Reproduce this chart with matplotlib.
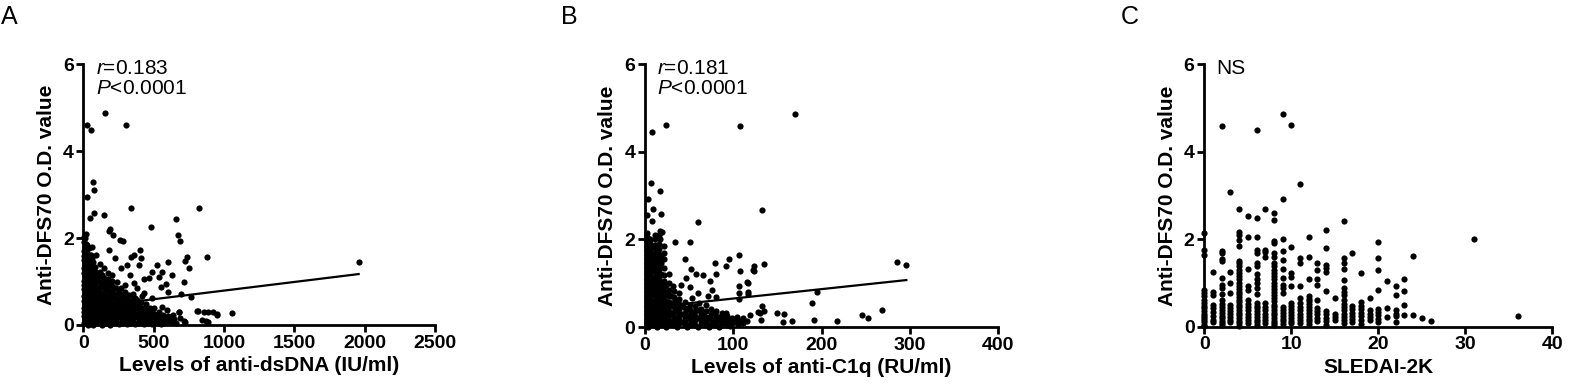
import numpy as np
import matplotlib
matplotlib.use("Agg")
import matplotlib.pyplot as plt

plt.rcParams['font.family'] = ['Liberation Sans', 'DejaVu Sans']
plt.rcParams['mathtext.fontset'] = 'custom'
plt.rcParams['mathtext.rm'] = 'Liberation Sans'
plt.rcParams['mathtext.it'] = 'Liberation Sans:italic'

# ---- panel A: anti-dsDNA (IU/ml) vs anti-DFS70 O.D. ----
pts_a = [
    # outliers
    (28, 4.6), (57, 4.48), (152, 4.87), (301, 4.6), (69, 3.29), (76, 3.1), (28, 2.94),
    (337, 2.7), (820, 2.7), (76, 2.57), (147, 2.54), (45, 2.45), (661, 2.43), (483, 2.25),
    (188, 2.2), (1957, 1.44), (20, 2.1), (14, 2.0),
    (185, 2.15), (213, 2.07), (260, 1.95), (284, 1.93), (670, 2.07), (687, 1.92),
    (403, 1.72), (360, 1.61), (337, 1.57), (408, 1.53), (396, 1.38), (739, 1.57),
    (877, 1.56), (720, 1.46), (604, 1.44), (526, 1.39), (751, 1.30), (562, 1.23),
    (491, 1.23), (538, 1.11), (633, 1.15), (467, 1.09), (432, 1.06), (586, 0.94),
    (550, 0.88), (715, 0.98), (604, 0.77), (767, 0.65), (696, 0.71), (180, 1.72),
    (227, 1.53), (267, 1.30), (310, 1.38), (333, 1.15), (357, 0.96), (381, 0.84),
    (428, 0.73), (487, 0.61), (558, 0.42), (594, 0.34), (677, 0.31), (617, 0.19),
    (688, 0.15), (723, 0.08), (806, 0.32), (854, 0.29), (889, 0.31), (948, 0.23),
    (1054, 0.27), (841, 0.12), (889, 0.08), (713, 0.1), (680, 0.31), (815, 0.33),
    (953, 0.25), (920, 0.3), (870, 0.1),
    # dense core
    (8, .04), (9, .12), (7, .2), (8, .3), (6, .38), (9, .47), (8, .55), (7, .66), (9, .74),
    (8, .83), (6, .92), (8, 1.02), (9, 1.1), (7, 1.2), (8, 1.31), (9, 1.4), (7, 1.5),
    (8, 1.58), (6, 1.7), (9, 1.8), (8, 1.9), (7, 2.02),
    (24, .08), (25, .17), (23, .26), (24, .35), (26, .44), (22, .52), (25, .62), (24, .71),
    (23, .8), (25, .9), (24, .98), (26, 1.08), (23, 1.17), (24, 1.26), (25, 1.36),
    (22, 1.46), (24, 1.55), (26, 1.64), (24, 1.75), (23, 1.85),
    (42, .03), (41, .14), (43, .23), (42, .32), (40, .42), (43, .5), (42, .6), (41, .7),
    (44, .78), (42, .88), (41, .96), (43, 1.06), (42, 1.16), (40, 1.25), (43, 1.34),
    (42, 1.44), (41, 1.52), (44, 1.62), (42, 1.78),
    (60, .06), (61, .16), (59, .27), (60, .36), (62, .46), (58, .57), (61, .65), (60, .75),
    (59, .86), (61, .95), (60, 1.04), (62, 1.14), (59, 1.24), (60, 1.33), (61, 1.42),
    (60, 1.55), (63, 1.8),
    (85, .05), (86, .15), (84, .24), (85, .34), (87, .44), (83, .53), (86, .63), (85, .73),
    (84, .82), (86, .93), (85, 1.02), (87, 1.12), (84, 1.22), (85, 1.34), (88, 1.6),
    (115, .08), (114, .18), (116, .28), (115, .38), (113, .48), (116, .58), (115, .68),
    (114, .78), (117, .88), (115, .98), (114, 1.1), (116, 1.22), (118, 1.4),
    (145, .04), (146, .13), (144, .23), (145, .33), (147, .43), (143, .53), (146, .63),
    (145, .73), (144, .85), (146, .96), (145, 1.08), (147, 1.3),
    (175, .07), (174, .17), (176, .27), (175, .37), (173, .47), (176, .57), (175, .67),
    (174, .8), (177, .92), (175, 1.05), (176, 1.2),
    (205, .05), (206, .15), (204, .25), (205, .35), (207, .45), (203, .55), (206, .65),
    (205, .78), (204, .9), (206, 1.02), (205, 1.16),
    (235, .09), (234, .19), (236, .29), (235, .39), (233, .49), (236, .6), (235, .72),
    (234, .86), (237, 1.0),
    (265, .05), (266, .15), (264, .25), (265, .35), (267, .46), (263, .57), (266, .7),
    (265, .85),
    (295, .08), (294, .18), (296, .28), (295, .38), (293, .5), (296, .62), (295, .76),
    (294, .92),
    (325, .04), (326, .14), (324, .24), (325, .34), (327, .45), (323, .56), (326, .68),
    (355, .07), (354, .17), (356, .27), (355, .37), (353, .48), (356, .6), (355, .72),
    (385, .05), (386, .15), (384, .25), (385, .36), (387, .47), (383, .58),
    (415, .08), (414, .18), (416, .28), (415, .4), (413, .52), (416, .66),
    (445, .04), (446, .14), (444, .25), (445, .36), (447, .48),
    (475, .07), (474, .17), (476, .28), (475, .4),
    (505, .05), (506, .15), (504, .26), (505, .38),
    (535, .08), (534, .18), (536, .3),
    (565, .05), (566, .14), (564, .24),
    (600, .1), (602, .2), (640, .06), (641, .14), (639, .24), (660, .05),
    # staggered core
    (16, .08), (16, .25), (16, .42), (16, .6), (16, .78), (16, .96), (16, 1.14), (16, 1.32),
    (16, 1.5), (16, 1.68), (16, 1.86),
    (33, .0), (33, .18), (33, .36), (33, .54), (33, .72), (33, .9), (33, 1.08), (33, 1.26),
    (33, 1.44), (33, 1.62), (33, 1.8),
    (51, .1), (51, .28), (51, .46), (51, .64), (51, .82), (51, 1.0), (51, 1.18), (51, 1.36),
    (51, 1.6),
    (72, .0), (72, .2), (72, .38), (72, .56), (72, .74), (72, .92), (72, 1.1), (72, 1.28),
    (72, 1.45),
    (100, .12), (100, .3), (100, .48), (100, .66), (100, .84), (100, 1.02), (100, 1.2),
    (130, .0), (130, .18), (130, .36), (130, .54), (130, .72), (130, .9), (130, 1.15),
    (160, .1), (160, .28), (160, .46), (160, .64), (160, .82), (160, 1.0),
    (190, .0), (190, .2), (190, .38), (190, .56), (190, .74), (190, .95),
    (220, .1), (220, .3), (220, .48), (220, .66), (220, .85),
    (250, .02), (250, .2), (250, .4), (250, .6), (250, .78),
    (280, .12), (280, .32), (280, .5), (280, .68),
    (310, .02), (310, .2), (310, .4), (310, .6),
    (340, .1), (340, .3), (340, .5),
    (370, .02), (370, .2), (370, .4), (370, .62),
    (400, .12), (400, .32), (400, .5),
    (430, .02), (430, .2), (430, .4),
    (460, .1), (460, .3), (490, .02), (490, .2), (490, .32), (520, .1), (520, .22),
    (550, .02), (550, .12), (580, .08), (580, .18), (620, .1),
]
fit_a = (0.000397, 0.394)  # slope, intercept of the regression line

# ---- panel B: anti-C1q (RU/ml) vs anti-DFS70 O.D. ----
pts_b = [
    # outliers
    (7.5, 4.46), (23.8, 4.6), (108, 4.59), (170, 4.86), (6.8, 3.28), (17, 3.1),
    (3.8, 2.92), (9.4, 2.69), (17.7, 2.57), (2.5, 2.55), (7.5, 2.43), (60, 2.4),
    (133, 2.68), (34, 1.93), (51, 1.93), (18.9, 2.18), (17, 2.02), (45, 1.55),
    (79, 1.45), (95, 1.55), (107, 1.64), (92, 1.4), (80, 1.22), (108, 1.28), (123, 1.4),
    (123, 1.28), (135, 1.43), (52, 1.32), (58, 1.21), (66, 1.19), (74, 1.04), (116, 1.02),
    (107, 0.94), (47, 1.11), (41, 0.96), (32, 0.94), (51, 0.92), (75.5, 0.84), (80, 0.69),
    (71, 0.71), (60, 0.77), (53, 0.67), (39, 0.77), (27, 0.73), (117, 0.81), (106, 0.77),
    (107, 0.65), (132, 0.48), (135, 0.36), (130, 0.33), (119, 0.27), (108, 0.12),
    (96, 0.16), (84, 0.24), (104, 0.24), (92, 0.31), (81, 0.36), (69, 0.5), (61, 0.54),
    (128, 0.34), (131, 0.15), (149, 0.33), (157, 0.3), (156, 0.11), (167, 0.14),
    (189, 0.55), (195, 0.79), (191, 0.17), (217, 0.14), (246, 0.27), (252, 0.21),
    (268, 0.38), (285, 1.49), (296, 1.42), (117, 1.0), (117, 0.76), (122, 1.3),
    # dense core
    (2, .04), (2, .12), (2, .2), (2, .29), (2, .38), (2, .47), (2, .56), (2, .65), (2, .74),
    (2, .83), (2, .92), (2, 1.01), (2, 1.1), (2, 1.2), (2, 1.29), (2, 1.38), (2, 1.47),
    (2, 1.56), (2, 1.66), (2, 1.75), (2, 1.85), (2, 1.96), (2, 2.06), (2, 2.15),
    (6, .08), (6, .17), (6, .26), (6, .35), (6, .44), (6, .53), (6, .62), (6, .71), (6, .8),
    (6, .9), (6, .99), (6, 1.08), (6, 1.18), (6, 1.27), (6, 1.36), (6, 1.45), (6, 1.55),
    (6, 1.64), (6, 1.73), (6, 1.82), (6, 1.92), (6, 2.02),
    (11, .05), (11, .14), (11, .23), (11, .33), (11, .42), (11, .51), (11, .6), (11, .7),
    (11, .79), (11, .88), (11, .98), (11, 1.06), (11, 1.15), (11, 1.25), (11, 1.34),
    (11, 1.43), (11, 1.52), (11, 1.62), (11, 1.7), (11, 1.8), (11, 1.88), (11, 2.0),
    (11, 2.1),
    (16, .07), (16, .16), (16, .25), (16, .34), (16, .44), (16, .53), (16, .62), (16, .72),
    (16, .82), (16, .92), (16, 1.02), (16, 1.12), (16, 1.22), (16, 1.32), (16, 1.42),
    (16, 1.54), (16, 1.66), (16, 1.78), (16, 1.9), (16, 2.1), (17, 2.2),
    (21, .04), (21, .13), (21, .22), (21, .31), (21, .4), (21, .5), (21, .6), (21, .7),
    (21, .8), (21, .92), (21, 1.04), (21, 1.18), (21, 1.35), (21, 1.55), (21, 1.7),
    (21, 1.85),
    (27, .08), (27, .17), (27, .27), (27, .37), (27, .47), (27, .58), (27, .7), (27, .84),
    (27, 1.0), (27, 1.2),
    (33, .05), (33, .14), (33, .24), (33, .34), (33, .45), (33, .56), (33, .68), (33, .82),
    (39, .09), (39, .19), (39, .29), (39, .4), (39, .52), (39, .64),
    (45, .04), (45, .13), (45, .23), (45, .33), (45, .44), (45, .56),
    (51, .08), (51, .18), (51, .28), (51, .39), (51, .5),
    (57, .05), (57, .15), (57, .25), (57, .36), (57, .48),
    (63, .09), (63, .19), (63, .3), (63, .42),
    (69, .04), (69, .14), (69, .24), (69, .36),
    (75, .08), (75, .18), (75, .29), (75, .42),
    (81, .05), (81, .15), (81, .26), (87, .09), (87, .2), (87, .32),
    (93, .05), (93, .14), (93, .25), (99, .1), (99, .2), (105, .06), (105, .16),
    (111, .1), (111, .2), (116, .14),
    # staggered core
    (4, .0), (4, .16), (4, .33), (4, .5), (4, .67), (4, .84), (4, 1.0), (4, 1.16), (4, 1.33),
    (4, 1.5), (4, 1.68), (4, 1.85), (4, 2.0),
    (9, .08), (9, .25), (9, .42), (9, .6), (9, .78), (9, .95), (9, 1.12), (9, 1.3),
    (9, 1.48), (9, 1.65), (9, 1.82),
    (13.5, .0), (13.5, .18), (13.5, .36), (13.5, .54), (13.5, .72), (13.5, .9), (13.5, 1.1),
    (13.5, 1.28), (13.5, 1.46), (13.5, 1.64), (13.5, 1.84),
    (18.5, .1), (18.5, .28), (18.5, .46), (18.5, .64), (18.5, .82), (18.5, 1.0),
    (18.5, 1.2), (18.5, 1.45), (18.5, 1.62),
    (24, .0), (24, .2), (24, .4), (24, .6), (24, .78), (24, .95),
    (30, .1), (30, .3), (30, .5), (30, .7), (36, .0), (36, .2), (36, .4), (36, .6),
    (42, .12), (42, .3), (42, .48), (48, .0), (48, .2), (48, .4), (54, .1), (54, .3),
    (60, .0), (60, .2), (60, .38), (66, .1), (66, .3), (72, .0), (72, .2), (78, .1),
    (78, .32), (84, .0), (84, .14), (90, .1), (90, .22), (96, .02), (102, .12),
]
fit_b = (0.00215, 0.435)

# ---- panel C: SLEDAI-2K vs anti-DFS70 O.D. ----
pts_c = [
    (0, 2.14), (0, 1.75), (0, 1.64), (0, .85), (0, .78), (0, .7), (0, .62), (0, .55), (0, .48),
    (0, .42), (0, .36), (0, .3), (0, .25), (0, .2), (0, .15), (0, .1), (0, .05), (0, .02),
    (1, 1.24), (1, .8), (1, .72), (1, .5), (1, .42), (1, .33), (1, .25), (1, .15), (1, .1),
    (2, 4.59), (2, 1.74), (2, 1.68), (2, 1.55), (2, 1.5), (2, 1.12), (2, .95), (2, .88),
    (2, .75), (2, .6), (2, .52), (2, .45), (2, .38), (2, .32), (2, .25), (2, .2), (2, .14),
    (2, .08), (2, .03),
    (3, 3.09), (3, 1.24), (3, .99), (3, .76), (3, .5), (3, .42), (3, .35), (3, .28), (3, .22),
    (3, .15), (3, .1),
    (4, 2.69), (4, 2.17), (4, 2.1), (4, 1.98), (4, 1.85), (4, 1.5), (4, 1.45), (4, 1.38),
    (4, 1.3), (4, 1.22), (4, 1.15), (4, 1.08), (4, 1.0), (4, .93), (4, .86), (4, .8),
    (4, .74), (4, .68), (4, .62), (4, .56), (4, .5), (4, .44), (4, .38), (4, .32), (4, .26),
    (4, .2), (4, .14), (4, .08), (4, .02),
    (5, 2.54), (5, 2.04), (5, 1.33), (5, .92), (5, .85), (5, .6), (5, .52), (5, .45),
    (5, .38), (5, .3), (5, .22), (5, .15), (5, .08),
    (6, 4.49), (6, 2.48), (6, 2.04), (6, 1.75), (6, 1.68), (6, 1.45), (6, 1.38), (6, 1.2),
    (6, 1.08), (6, 1.0), (6, .88), (6, .75), (6, .55), (6, .48), (6, .42), (6, .35),
    (6, .28), (6, .22), (6, .15), (6, .1), (6, .05),
    (7, 2.69), (7, 1.75), (7, 1.7), (7, 1.6), (7, .55), (7, .45), (7, .38), (7, .3),
    (7, .22), (7, .15), (7, .08),
    (8, 2.59), (8, 2.43), (8, 1.96), (8, 1.92), (8, 1.68), (8, 1.6), (8, 1.45), (8, 1.38),
    (8, 1.3), (8, 1.22), (8, 1.15), (8, 1.08), (8, 1.0), (8, .93), (8, .86), (8, .8),
    (8, .72), (8, .65), (8, .58), (8, .5), (8, .44), (8, .38), (8, .32), (8, .26), (8, .2),
    (8, .14), (8, .08), (8, .03),
    (9, 4.87), (9, 2.92), (9, 2.0), (9, 1.74), (9, 1.53), (9, 1.31), (9, 1.12), (9, .95),
    (9, .88), (9, .78), (9, .45), (9, .38), (9, .32), (9, .25), (9, .18), (9, .12), (9, .06),
    (10, 4.6), (10, 1.83), (10, 1.22), (10, 1.13), (10, .93), (10, .55), (10, .48),
    (10, .4), (10, .33), (10, .26), (10, .2), (10, .14), (10, .08),
    (11, 3.27), (11, 1.56), (11, 1.45), (11, .92), (11, .65), (11, .55), (11, .45),
    (11, .38), (11, .3), (11, .22), (11, .15), (11, .08),
    (12, 2.04), (12, 1.59), (12, 1.08), (12, .7), (12, .64), (12, .58), (12, .52),
    (12, .45), (12, .38), (12, .32), (12, .25), (12, .18), (12, .12), (12, .06),
    (13, 1.45), (13, 1.3), (13, 1.1), (13, .95), (13, .61), (13, .42), (13, .35), (13, .28),
    (13, .2), (13, .12),
    (14, 2.22), (14, 1.79), (14, 1.41), (14, 1.35), (14, 1.26), (14, .82), (14, .35),
    (14, .28), (14, .2), (14, .12), (14, .05),
    (15, .65), (15, .3), (15, .22), (15, .15),
    (16, 2.41), (16, 1.56), (16, 1.45), (16, 1.33), (16, 1.07), (16, .88), (16, .8),
    (16, .72), (16, .6), (16, .52), (16, .45), (16, .38), (16, .3), (16, .22), (16, .15),
    (16, .08),
    (17, 1.68), (17, .47), (17, .4), (17, .32), (17, .25), (17, .18), (17, .1),
    (18, 1.22), (18, .56), (18, .48), (18, .4), (18, .32), (18, .24), (18, .15), (18, .06),
    (19, .65), (19, .38), (19, .3), (19, .22), (19, .15),
    (20, 1.94), (20, 1.58), (20, 1.3), (20, .85), (20, .4), (20, .33), (20, .26), (20, .18),
    (20, .1),
    (21, 1.05), (21, .42), (21, .23),
    (22, .93), (22, .72), (22, .38), (22, .3), (22, .24), (22, .11),
    (23, 1.08), (23, .82), (23, .5), (23, .26),
    (24, 1.62), (24, .26), (25, .2), (26, .13), (31, 2.0), (36, .24),
]

panels = [
    (pts_a, fit_a, [0, 500, 1000, 1500, 2000, 2500], 'Levels of anti-dsDNA (IU/ml)',
     ['$r$=0.183', '$P$<0.0001'], 'A', [0.0531, 0.1667, 0.2240, 0.669]),
    (pts_b, fit_b, [0, 100, 200, 300, 400], 'Levels of anti-C1q (RU/ml)',
     ['$r$=0.181', '$P$<0.0001'], 'B', [0.4108, 0.1615, 0.2250, 0.674]),
    (pts_c, None, [0, 10, 20, 30, 40], 'SLEDAI-2K',
     ['NS'], 'C', [0.7671, 0.1623, 0.2217, 0.673]),
]
letter_x = [1, 561, 1121]

fig = plt.figure(figsize=(15.7, 3.9), dpi=100)

for (pts, fit, xticks, xlabel, notes, letter, rect), lx in zip(panels, letter_x):
    ax = fig.add_axes(rect)
    arr = np.array(pts, dtype=float)
    ax.scatter(arr[:, 0], arr[:, 1], s=20, color='black', linewidths=0, clip_on=False, zorder=3)
    if fit is not None:
        xs = np.array([arr[:, 0].min(), arr[:, 0].max()])
        ax.plot(xs, fit[0] * xs + fit[1], color='black', lw=1.6, zorder=4)
    ax.set_xlim(xticks[0], xticks[-1])
    ax.set_ylim(0, 6)
    ax.set_xticks(xticks)
    ax.set_yticks([0, 2, 4, 6])
    for s in ['top', 'right']:
        ax.spines[s].set_visible(False)
    for s in ['left', 'bottom']:
        ax.spines[s].set_linewidth(2.0)
    ax.tick_params(direction='out', length=5, width=2.0, labelsize=14, pad=2)
    for lab in ax.get_xticklabels() + ax.get_yticklabels():
        lab.set_fontweight('bold')
    ax.set_xlabel(xlabel, fontsize=15, fontweight='bold', labelpad=3)
    ax.set_ylabel('Anti-DFS70 O.D. value', fontsize=15, fontweight='bold', labelpad=5)
    ax.text(0.035, 1.02, '\n'.join(notes), transform=ax.transAxes, ha='left', va='top',
            fontsize=15, linespacing=1.05)
    fig.text(lx / 1570, 1 - 5 / 390, letter, ha='left', va='top', fontsize=18)

plt.savefig('out.png', dpi=100)
